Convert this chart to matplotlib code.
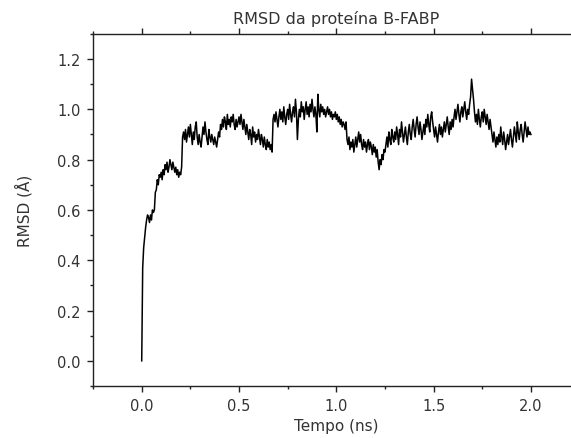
import numpy as np
import matplotlib
matplotlib.use('Agg')
import matplotlib.pyplot as plt
from matplotlib.ticker import MultipleLocator

# RMSD values, one row per 0.1 ns (step 0.005 ns)
rmsd = [
    0.00, 0.37, 0.45, 0.49, 0.53, 0.56, 0.58, 0.57, 0.55, 0.58, 0.56, 0.60, 0.59, 0.60, 0.67, 0.68, 0.72, 0.70, 0.74, 0.73,
    0.75, 0.72, 0.76, 0.74, 0.78, 0.76, 0.79, 0.75, 0.77, 0.80, 0.78, 0.76, 0.79, 0.77, 0.75, 0.77, 0.74, 0.76, 0.73, 0.75,
    0.74, 0.77, 0.89, 0.91, 0.88, 0.92, 0.87, 0.90, 0.93, 0.89, 0.94, 0.90, 0.86, 0.91, 0.88, 0.93, 0.95, 0.89, 0.86, 0.90,
    0.87, 0.85, 0.89, 0.93, 0.90, 0.95, 0.91, 0.88, 0.86, 0.92, 0.89, 0.87, 0.90, 0.88, 0.86, 0.89, 0.87, 0.85, 0.88, 0.91,
    0.89, 0.94, 0.92, 0.96, 0.93, 0.97, 0.95, 0.92, 0.98, 0.94, 0.96, 0.93, 0.97, 0.95, 0.98, 0.94, 0.92, 0.96, 0.93, 0.95,
    0.97, 0.94, 0.98, 0.95, 0.92, 0.96, 0.93, 0.90, 0.94, 0.91, 0.88, 0.92, 0.90, 0.86, 0.93, 0.89, 0.91, 0.87, 0.90, 0.88,
    0.92, 0.89, 0.86, 0.90, 0.88, 0.85, 0.89, 0.86, 0.84, 0.88, 0.85, 0.87, 0.84, 0.86, 0.83, 0.96, 0.98, 0.95, 0.99, 0.96,
    0.93, 0.97, 1.00, 0.96, 0.99, 0.95, 1.01, 0.97, 0.94, 0.98, 1.00, 0.96, 1.02, 0.98, 0.95, 0.99, 1.01, 0.97, 1.04, 0.99,
    0.88, 0.96, 1.00, 0.97, 1.03, 0.99, 1.01, 0.96, 1.00, 1.03, 0.98, 1.01, 0.97, 1.02, 0.99, 1.04, 1.00, 0.97, 1.01, 0.98,
    0.91, 1.06, 1.00, 0.97, 1.02, 0.99, 1.01, 0.98, 1.00, 0.97, 0.99, 1.01, 0.98, 1.00, 0.97, 0.99, 0.96, 0.98, 0.97, 0.99,
    0.96, 0.98, 0.95, 0.97, 0.94, 0.96, 0.93, 0.95, 0.94, 0.92, 0.95, 0.88, 0.86, 0.89, 0.84, 0.87, 0.85, 0.88, 0.83, 0.86,
    0.89, 0.85, 0.88, 0.91, 0.87, 0.90, 0.86, 0.84, 0.88, 0.85, 0.87, 0.83, 0.86, 0.88, 0.84, 0.87, 0.85, 0.82, 0.86, 0.83,
    0.85, 0.81, 0.84, 0.79, 0.76, 0.80, 0.78, 0.82, 0.80, 0.84, 0.83, 0.86, 0.89, 0.85, 0.91, 0.88, 0.86, 0.92, 0.89, 0.87,
    0.91, 0.88, 0.93, 0.90, 0.86, 0.92, 0.89, 0.95, 0.91, 0.87, 0.90, 0.93, 0.89, 0.86, 0.91, 0.94, 0.90, 0.88, 0.93, 0.96,
    0.92, 0.89, 0.94, 0.97, 0.93, 0.90, 0.95, 0.92, 0.88, 0.91, 0.94, 0.90, 0.96, 0.93, 0.98, 0.94, 0.91, 0.97, 0.99, 0.95,
    0.92, 0.89, 0.93, 0.90, 0.87, 0.91, 0.94, 0.90, 0.93, 0.89, 0.92, 0.95, 0.91, 0.94, 0.97, 0.93, 0.90, 0.95, 0.92, 0.96,
    0.93, 0.97, 1.00, 0.96, 0.99, 1.02, 0.98, 0.95, 0.99, 1.01, 0.97, 1.00, 1.03, 0.99, 0.96, 1.00, 0.98, 1.02, 1.05, 1.12,
    1.08, 1.04, 0.99, 0.95, 0.98, 0.94, 1.00, 0.96, 0.93, 0.97, 0.99, 0.95, 1.00, 0.97, 0.94, 0.98, 0.95, 0.92, 0.96, 0.93,
    0.90, 0.87, 0.91, 0.88, 0.85, 0.89, 0.86, 0.90, 0.87, 0.93, 0.89, 0.86, 0.91, 0.88, 0.84, 0.87, 0.90, 0.86, 0.89, 0.92,
    0.88, 0.85, 0.89, 0.93, 0.90, 0.87, 0.95, 0.91, 0.88, 0.92, 0.94, 0.90, 0.87, 0.91, 0.95, 0.92, 0.89, 0.93, 0.90, 0.91,
    0.90,
]
dt = 0.005  # ns
tempo = np.arange(len(rmsd)) * dt

title = 'RMSD da proteína B-FABP'
xlabel = 'Tempo (ns)'
ylabel = 'RMSD (Å)'

plt.rcParams['font.family'] = ['DejaVu Sans']
txt = '#333333'

fig = plt.figure(figsize=(5.71, 4.39), dpi=100)
# the right edge of the frame runs past the picture, as in the original
ax = fig.add_axes([0.163, 0.1185, 0.852, 0.802])

ax.plot(tempo, rmsd, color='black', lw=1.1)

ax.set_xlim(-0.25, 2.25)
ax.set_ylim(-0.1, 1.3)
ax.xaxis.set_major_locator(MultipleLocator(0.5))
ax.xaxis.set_minor_locator(MultipleLocator(0.25))
ax.yaxis.set_major_locator(MultipleLocator(0.2))
ax.yaxis.set_minor_locator(MultipleLocator(0.1))
ax.xaxis.set_major_formatter(plt.FormatStrFormatter('%.1f'))
ax.yaxis.set_major_formatter(plt.FormatStrFormatter('%.1f'))

for s in ax.spines.values():
    s.set_color('#222222')
    s.set_linewidth(1.0)
ax.spines['right'].set_visible(False)

ax.tick_params(which='both', direction='out', top=True, right=False,
               color='#222222', width=1.0)
ax.tick_params(which='major', length=4, labelsize=10.5, labelcolor=txt, pad=5)
ax.tick_params(which='minor', length=2.5)
ax.tick_params(axis='x', labeltop=False)

ax.set_title(title, fontsize=11.5, color=txt, pad=8)
ax.set_xlabel(xlabel, fontsize=11, color=txt, labelpad=3)
ax.set_ylabel(ylabel, fontsize=11, color=txt, labelpad=18)

fig.savefig('out.png', dpi=100)
